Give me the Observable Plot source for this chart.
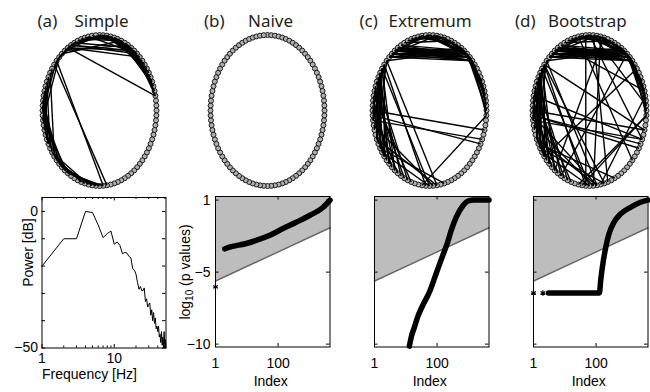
<!DOCTYPE html>
<html><head><meta charset="utf-8">
<script src="https://cdn.jsdelivr.net/npm/d3@7"></script>
<script src="https://cdn.jsdelivr.net/npm/@observablehq/plot@0.6"></script>
<style>
body{margin:0;background:#fff;overflow:hidden;}
#fig{position:relative;width:650px;height:392px;overflow:hidden;background:#fff;}
#fig svg{position:absolute;}
</style></head><body><div id="fig"></div>
<script>
// ---------- data ----------
const nodeCount = 96;                       // electrodes on the circular layout
const panelTags = ["(a)", "(b)", "(c)", "(d)"];
const panelNames = ["Simple", "Naive", "Extremum", "Bootstrap"];

// significant connections (node index pairs) for each method
const edgesSimple = [
  [87,10],[88,10],[86,8],[85,6],[89,3],[90,2],[92,5],[94,8],[0,9],[2,11],[3,12],[5,14],[6,16],
  [87,21],[87,12],[7,18],[8,19],[9,20],[4,17],[10,21],[86,0],[88,1],[91,6],[93,11],[1,13],[4,15],
  [6,19],[84,88],[83,89],[88,11],[89,9],[2,14],[3,16],[5,18],
  [80,62],[78,64],[77,66],[76,65],[75,63],[74,60],[72,58],[79,68],[81,70],[73,61],[74,66],[75,67],
  [73,65],[76,68],[71,59],[70,57],[84,70],[83,72],[74,65],[75,66],
  [60,50],[61,52],[59,49],[63,51],[58,48],[62,53],[57,47],
  [82,46],[83,47]
];
const edgesNaive = [];
const edgesExtremum = [
  [85,11],[86,12],[86,10],[87,11],[84,12],[85,13],[88,10],[86,0],[0,11],[95,12],[84,9],[87,13],
  [89,6],[91,4],[93,8],[2,10],[4,12],[1,9],[90,3],[83,10],[84,94],[85,2],
  [86,11],[85,12],[87,12],[84,11],[86,13],[85,10],[87,10],[88,12],[84,13],[92,7],[94,10],[0,12],
  [11,24],[12,22],[10,20],[13,25],[9,19],[14,23],[12,20],[11,18],[12,24],[13,21],
  [82,62],[81,64],[80,60],[79,66],[78,58],[77,63],[76,61],[75,65],[74,59],[73,62],[72,57],[80,68],
  [82,70],[81,58],[79,56],[78,54],[77,70],[83,66],[76,55],[75,53],[80,64],[78,62],[81,66],[79,60],
  [82,49],[83,46],[81,48],[72,28],[71,31],[70,30],[25,50],[66,46],[63,48],[69,47],[64,44]
];
const edgesBootstrapExtra = [
  [82,28],[95,49],[1,43],[0,30],[4,58],[11,56],[75,30],[71,32],[21,45],[65,41],[71,46],[1,23],
  [82,44],[3,47],[15,62],[25,51],[88,20],[93,35]
];
const edgesBootstrap = edgesExtremum.concat(edgesBootstrapExtra);

// (a) power spectrum
const freqHz = d3.range(1, 53);
const powerDb = [-20,-10,-10,0,-0.4,-5,-9.6,-8.1,-7.2,-12,-11.2,-12.5,-15.5,-15,-15.3,-16.5,-17,-21,
  -21.5,-23,-26,-28.5,-27.5,-29,-29,-28,-33,-32,-35,-34,-33.5,-38,-36,-40,-37,-41,-39,-43,-42,-44,
  -42,-46,-45,-48,-44,-49,-46,-50,-44,-50,-47,-50];
const powerTicks = [0, -50];
const powerTickLabels = ["0", "\u221250"];
const freqTicks = [1, 10];

// sorted p values (log10) against rank index
const pairCount = 4560;
const naiveIndex = [2, 3, 9, 20, 52, 140, 380, 1020, 2760, 4560];
const naiveLogP = [-3.38, -3.25, -3.03, -2.80, -2.46, -1.99, -1.54, -1.07, -0.50, 0];
const naiveSparseIndex = [1, 2];
const naiveSparseLogP = [-6.03, -3.38];
const extremumIndex = [13, 15, 19, 24, 35, 57, 93, 152, 210, 283, 410, 676, 1000, 1500, 4560];
const extremumLogP = [-10.14, -9.49, -8.8, -8.11, -7.3, -6.38, -5.11, -3.84, -3.03, -2.11, -1.19, -0.38, -0.05, 0, 0];
const bootstrapIndex = [3, 128, 140, 159, 204, 259, 373, 607, 1260, 2630, 4560];
const bootstrapLogP = [-6.45, -6.45, -5.6, -4.65, -3.27, -2.34, -1.54, -0.96, -0.5, -0.15, 0];
const bootstrapSparseIndex = [1, 2];
const bootstrapSparseLogP = [-6.45, -6.45];
const thresholdIndex = [1, pairCount];
const thresholdLogP = [-5.62, -1.92];
const indexTicks = [1, 100];
const pTicks = [0, -5, -10];
const pTickLabels = ["1", "\u22125", "\u221210"];

// ---------- drawing ----------
const fig = document.getElementById("fig");
const sans = "'Liberation Sans', Arial, Helvetica, sans-serif";
const titleFont = "'Noto Sans', 'Open Sans', sans-serif";
const svgStyle = {background: "none", overflow: "visible", fontFamily: sans};

function place(svg, left, top) {
  svg.style.left = left + "px";
  svg.style.top = top + "px";
  fig.appendChild(svg);
  return svg;
}

const nodes = d3.range(nodeCount).map(k => {
  const t = Math.PI / 2 - 2 * Math.PI * k / nodeCount;
  return {k, x: Math.cos(t), y: Math.sin(t)};
});

// circular connectivity graphs with their titles
const ringLayout = [
  {cx: 99, tagX: 37, nameX: 74},
  {cx: 266.5, tagX: 203, nameX: 247},
  {cx: 429, tagX: 359, nameX: 388},
  {cx: 588.5, tagX: 514, nameX: 547}
];
const ringEdges = [edgesSimple, edgesNaive, edgesExtremum, edgesBootstrap];

ringLayout.forEach((L, i) => {
  const left = L.cx - 75;
  const edges = ringEdges[i];
  const svg = Plot.plot({
    width: 150, height: 192, margin: 0, style: svgStyle,
    x: {domain: [-1, 1], range: [75 - 57, 75 + 57], axis: null},
    y: {domain: [-1, 1], range: [110 + 75.5, 110 - 75.5], axis: null},
    marks: [
      Plot.dot(nodes, {x: "x", y: "y", r: 2.5, stroke: "#1a1a1a", strokeWidth: 1, fill: "#b0b0b0"}),
      Plot.link(edges, {
        x1: e => nodes[e[0]].x, y1: e => nodes[e[0]].y,
        x2: e => nodes[e[1]].x, y2: e => nodes[e[1]].y,
        stroke: "black", strokeWidth: 1.4
      }),
      Plot.text([panelTags[i]], {text: d => d, frameAnchor: "top-left", dx: L.tagX - left, dy: 20.6,
        textAnchor: "start", lineAnchor: "middle", fontSize: 17, fontFamily: titleFont, fill: "#231f20"}),
      Plot.text([panelNames[i]], {text: d => d, frameAnchor: "top-left", dx: L.nameX - left, dy: 20.6,
        textAnchor: "start", lineAnchor: "middle", fontSize: 17, fontFamily: titleFont, fill: "#231f20"})
    ]
  });
  place(svg, left, 0);
});

function innerTicks(xt, yt, fw, fh, len) {
  return [
    Plot.tickX(xt, {x: d => d, insetTop: fh - len, stroke: "black"}),
    Plot.tickX(xt, {x: d => d, insetBottom: fh - len, stroke: "black"}),
    Plot.tickY(yt, {y: d => d, insetRight: fw - len, stroke: "black"}),
    Plot.tickY(yt, {y: d => d, insetLeft: fw - len, stroke: "black"})
  ];
}

// (a) spectrum
{
  const spectrum = freqHz.map((f, i) => ({f, db: powerDb[i]}));
  const fw = 124, fh = 150.5;
  const minorF = [2,3,4,5,6,7,8,9,20,30,40,50];
  const svg = Plot.plot({
    width: 175, height: 202, marginLeft: 41.5, marginRight: 9.5, marginTop: 7, marginBottom: 44.5,
    style: svgStyle,
    x: {type: "log", domain: [1, 52]},
    y: {domain: [-50, 5.1]},
    marks: [
      Plot.line(spectrum, {x: "f", y: "db", stroke: "black", strokeWidth: 1}),
      ...innerTicks(freqTicks, [0,-10,-20,-30,-40,-50], fw, fh, 3.5),
      Plot.tickX(minorF, {x: d => d, insetTop: fh - 2, stroke: "black"}),
      Plot.tickX(minorF, {x: d => d, insetBottom: fh - 2, stroke: "black"}),
      Plot.frame({stroke: "black"}),
      Plot.axisX(freqTicks, {tickSize: 0, tickPadding: 5.5, fontSize: 14, label: null, tickFormat: d => String(d)}),
      Plot.axisY(powerTicks, {tickSize: 0, tickPadding: 4, fontSize: 14, label: null,
        tickFormat: d => powerTickLabels[powerTicks.indexOf(d)]}),
      Plot.text(["Frequency [Hz]"], {text: d => d, frameAnchor: "bottom", dx: 89 - 103.5, dy: 27,
        lineAnchor: "middle", fontSize: 14}),
      Plot.text(["Power [dB]"], {text: d => d, frameAnchor: "left", rotate: -90, dx: -13.5, dy: 14,
        lineAnchor: "middle", fontSize: 14})
    ]
  });
  place(svg, 0, 190);
}

// (b)–(d) sorted p values with significance threshold
const pPanels = [
  {left: 215, curve: [naiveIndex, naiveLogP], sparse: [naiveSparseIndex, naiveSparseLogP], yAxis: true},
  {left: 374, curve: [extremumIndex, extremumLogP], sparse: [[], []], yAxis: false},
  {left: 532.5, curve: [bootstrapIndex, bootstrapLogP], sparse: [bootstrapSparseIndex, bootstrapSparseLogP], yAxis: false}
];
const pTop = 0.25;
pPanels.forEach(P => {
  const fw = 114.5, fh = 150.5;
  const curve = P.curve[0].map((i, j) => ({i, p: P.curve[1][j]}));
  const sparse = P.sparse[0].map((i, j) => ({i, p: P.sparse[1][j]}));
  const threshold = thresholdIndex.map((i, j) => ({i, p: thresholdLogP[j]}));
  const marks = [
    Plot.areaY(threshold, {x: "i", y1: "p", y2: () => pTop, fill: "#bdbdbd"}),
    Plot.line(threshold, {x: "i", y: "p", stroke: "#666666", strokeWidth: 1.5}),
    Plot.line(curve, {x: "i", y: "p", stroke: "black", strokeWidth: 5.5, curve: "monotone-x",
      strokeLinecap: "round", strokeLinejoin: "round"}),
    Plot.dot(sparse, {x: "i", y: "p", symbol: "asterisk", r: 2.6, stroke: "black", strokeWidth: 1.2}),
    ...innerTicks(indexTicks, pTicks, fw, fh, 3.5),
    Plot.frame({stroke: "black"}),
    Plot.axisX(indexTicks, {tickSize: 0, tickPadding: 11.5, fontSize: 14, label: null, tickFormat: d => String(d)}),
    Plot.text(["Index"], {text: d => d, frameAnchor: "bottom", dx: -2, dy: 34.5, lineAnchor: "middle", fontSize: 14})
  ];
  if (P.yAxis) {
    marks.push(Plot.axisY(pTicks, {tickSize: 0, tickPadding: 5, fontSize: 14, label: null,
      tickFormat: d => pTickLabels[pTicks.indexOf(d)]}));
  }
  const svg = Plot.plot({
    width: 159.5, height: 202, marginLeft: 42, marginRight: 3, marginTop: 6, marginBottom: 45.5,
    style: svgStyle,
    x: {type: "log", domain: [1, pairCount]},
    y: P.yAxis ? {domain: [-10.2, pTop]} : {domain: [-10.2, pTop], axis: null},
    marks
  });
  place(svg, P.left - 42, 190);
  if (P.yAxis) {
    // y label with a subscripted base
    const t = d3.select(svg).append("text")
      .attr("transform", "translate(13,82) rotate(-90)")
      .attr("text-anchor", "middle").attr("dominant-baseline", "middle")
      .attr("font-size", 14).attr("font-family", sans).attr("fill", "black");
    t.append("tspan").text("log");
    t.append("tspan").attr("font-size", 10).attr("dy", 4).text("10");
    t.append("tspan").attr("dy", -4).text(" (p values)");
  }
});
</script></body></html>
